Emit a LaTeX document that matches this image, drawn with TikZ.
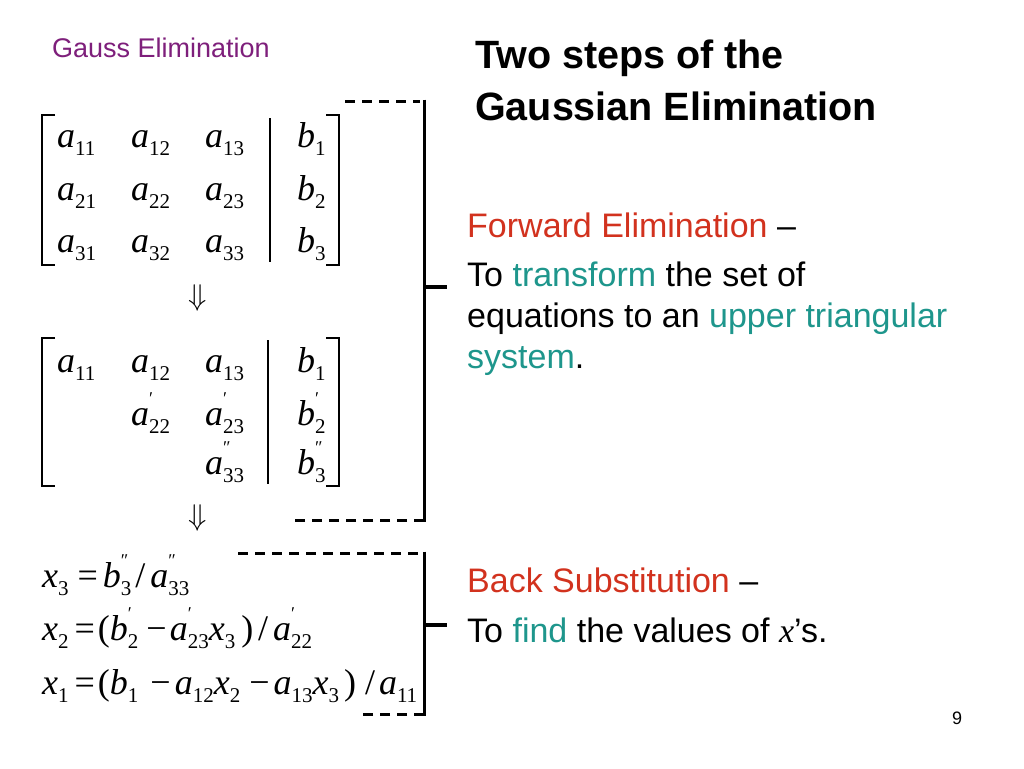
\documentclass[tikz,border=0pt]{standalone}
\usepackage{fontspec}
\setmainfont{Liberation Sans}
\newfontfamily\tms{Liberation Serif}
\definecolor{fered}{HTML}{D2321E}
\definecolor{tealx}{HTML}{1E968C}
\definecolor{purp}{HTML}{7E1F7B}
\newcommand\fs[1]{\fontsize{#1}{#1}\selectfont}
\newcommand\mv[1]{{\tms\itshape #1}}
\newcommand\idx[2]{\makebox[0pt][l]{\raisebox{0.56em}{\tms\fs{18}#1}}\raisebox{-0.23em}{\tms\fs{21}#2}}
\newcommand\ent[3]{\mv{#1}\idx{#2}{#3}}
\tikzset{
  entry/.style={anchor=base west, inner sep=0pt, font=\tms\fs{36}},
  body/.style={anchor=base west, inner sep=0pt, font=\fs{34}},
  dashln/.style={line width=3pt, dash pattern=on 10pt off 7pt},
  barln/.style={line width=3pt},
  tickln/.style={line width=4pt},
  brk/.style={line width=1.5pt},
  vbar/.style={line width=1.2pt},
  darrow/.style={inner sep=0pt, scale=3}
}
\begin{document}
\begin{tikzpicture}[x=1pt,y=-1pt]
\useasboundingbox (0,0) rectangle (1024,768);
\fill[white] (0,0) rectangle (1024,768);
% headers
\node[anchor=base west, inner sep=0pt, font=\fs{27}, text=purp] (hd) at (52,58) {Gauss Elimination};
\node[anchor=base west, inner sep=0pt, font=\bfseries\fs{39.5}] (ti1) at (475,68) {Two steps of the};
\node[anchor=base west, inner sep=0pt, font=\bfseries\fs{39.5}] (ti2) at (475,120) {Gaussian Elimination};
% matrix 1
\draw[brk] (55,115) -- (42,115) -- (42,265) -- (55,265);
\draw[brk] (326,115) -- (339,115) -- (339,265) -- (326,265);
\draw[vbar] (270,118) -- (270,262);
\node[entry] (p11) at (57,147) {\ent{a}{}{11}};
\node[entry] (p12) at (131,147) {\ent{a}{}{12}};
\node[entry] (p13) at (205,147) {\ent{a}{}{13}};
\node[entry] (pb1) at (297,147) {\ent{b}{}{1}};
\node[entry] (p21) at (57,200) {\ent{a}{}{21}};
\node[entry] (p22) at (131,200) {\ent{a}{}{22}};
\node[entry] (p23) at (205,200) {\ent{a}{}{23}};
\node[entry] (pb2) at (297,200) {\ent{b}{}{2}};
\node[entry] (p31) at (57,252) {\ent{a}{}{31}};
\node[entry] (p32) at (131,252) {\ent{a}{}{32}};
\node[entry] (p33) at (205,252) {\ent{a}{}{33}};
\node[entry] (pb3) at (297,252) {\ent{b}{}{3}};
\node[darrow] (da1) at (198,298) {$\Downarrow$};
% matrix 2
\draw[brk] (55,338) -- (42,338) -- (42,486) -- (55,486);
\draw[brk] (326,338) -- (339,338) -- (339,486) -- (326,486);
\draw[vbar] (268,340) -- (268,484);
\node[entry] (q11) at (57,372) {\ent{a}{}{11}};
\node[entry] (q12) at (131,372) {\ent{a}{}{12}};
\node[entry] (q13) at (205,372) {\ent{a}{}{13}};
\node[entry] (qb1) at (297,372) {\ent{b}{}{1}};
\node[entry] (q22) at (131,425) {\ent{a}{′}{22}};
\node[entry] (q23) at (205,425) {\ent{a}{′}{23}};
\node[entry] (qb2) at (297,425) {\ent{b}{′}{2}};
\node[entry] (q33) at (205,474) {\ent{a}{″}{33}};
\node[entry] (qb3) at (297,474) {\ent{b}{″}{3}};
\node[darrow] (da2) at (198,518) {$\Downarrow$};
% back substitution
\node[entry] (e3) at (42,587) {\ent{x}{}{3}\hspace{9pt}=\hspace{5pt}\ent{b}{″}{3}\hspace{4pt}/\hspace{5pt}\ent{a}{″}{33}};
\node[entry] (e2) at (42,640) {\ent{x}{}{2}\hspace{6pt}=\hspace{3pt}(\ent{b}{′}{2}\hspace{8pt}−\hspace{3pt}\ent{a}{′}{23}\ent{x}{}{3}\hspace{6pt})\hspace{5pt}/\hspace{5pt}\ent{a}{′}{22}};
\node[entry] (e1) at (42,694) {\ent{x}{}{1}\hspace{6pt}=\hspace{3pt}(\ent{b}{}{1}\hspace{12pt}−\hspace{4pt}\ent{a}{}{12}\ent{x}{}{2}\hspace{9pt}−\hspace{4pt}\ent{a}{}{13}\ent{x}{}{3}\hspace{5pt})\hspace{9pt}/\hspace{4pt}\ent{a}{}{11}};
% group brackets
\coordinate (gt1) at (424,101);
\coordinate (gb1) at (424,520);
\coordinate (gt2) at (424,553);
\coordinate (gb2) at (424,714);
\draw[dashln] (345,101) -- (420,101);
\draw[barln] (424,99.5) -- (424,521.5);
\draw[dashln] (gb1) -- (295,520);
\draw[tickln] (424,287) -- (447,287);
\draw[dashln] (238,553) -- (gt2);
\draw[barln] (424,551.5) -- (424,715.5);
\draw[dashln] (gb2) -- (360,714);
\draw[tickln] (424,625) -- (447,625);
% right text
\node[body, text=fered] (fe) at (467,237) {Forward Elimination \textcolor{black}{–}};
\node[body] (t1) at (467,286) {To \textcolor{tealx}{transform} the set of};
\node[body] (t2) at (467,327) {equations to an \textcolor{tealx}{upper triangular}};
\node[body, text=tealx] (t3) at (467,368) {system\textcolor{black}{.}};
\node[body, text=fered] (bs) at (467,592) {Back Substitution \textcolor{black}{–}};
\node[body] (t4) at (467,642) {To \textcolor{tealx}{find} the values of \mv{x}'s.};
\node[inner sep=0pt, font=\fs{18}] (pg) at (957,718) {9};
\end{tikzpicture}
\end{document}
